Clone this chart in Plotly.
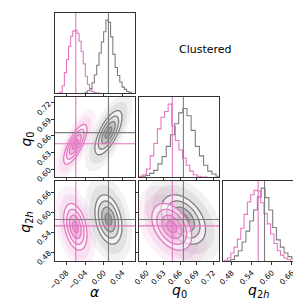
import numpy as np
import plotly.graph_objects as go

# ---------------- data ----------------
alpha_range = [-0.1045, 0.0672]
q0_range = [0.5859, 0.7306]
q2h_range = [0.4537, 0.6937]

alpha_ticks = [-0.08, -0.04, 0.00, 0.04]
alpha_ticktext = ["\u22120.08", "\u22120.04", "0.00", "0.04"]
q0_ticks = [0.60, 0.63, 0.66, 0.69, 0.72]
q0_ticktext = ["0.60", "0.63", "0.66", "0.69", "0.72"]
q2h_ticks = [0.48, 0.54, 0.60, 0.66]
q2h_ticktext = ["0.48", "0.54", "0.60", "0.66"]

# 1D histograms: [lo, hi] of the bins and counts per bin
pink_alpha_bins = [-0.098, -0.008]
pink_alpha_counts = [0, 1, 10, 28, 46, 64, 78, 85, 86, 82, 71, 57, 40, 23, 12, 5, 2, 1, 0, 0]
gray_alpha_bins = [-0.040, 0.059]
gray_alpha_counts = [1, 3, 6, 14, 25, 38, 55, 70, 84, 100, 97, 77, 53, 35, 24, 15, 8, 5, 2, 1]
pink_q0_bins = [0.580, 0.710]
pink_q0_counts = [0, 1, 3, 11, 29, 46, 66, 82, 90, 100, 70, 50, 37, 26, 16, 8, 3, 1, 0, 0]
gray_q0_bins = [0.590, 0.740]
gray_q0_counts = [1, 2, 5, 9, 18, 28, 42, 58, 73, 88, 94, 84, 64, 42, 29, 16, 8, 4, 1, 0]
pink_q2h_bins = [0.457, 0.656]
pink_q2h_counts = [1, 4, 11, 19, 30, 45, 64, 81, 91, 97, 96, 80, 65, 51, 37, 24, 14, 8, 4, 2]
gray_q2h_bins = [0.465, 0.694]
gray_q2h_counts = [0, 2, 7, 14, 26, 41, 55, 70, 88, 100, 87, 70, 46, 29, 19, 11, 6, 3, 2, 1]

# 2D posterior summaries (alpha, q0, q2h)
pink_mean = [-0.061, 0.645, 0.556]
gray_mean = [0.010, 0.666, 0.578]
pink_sigma = [0.0125, 0.018, 0.035]
gray_sigma = [0.0145, 0.020, 0.037]
pink_corr = {"alpha_q0": 0.75, "alpha_q2h": -0.35, "q0_q2h": -0.40}
gray_corr = {"alpha_q0": 0.70, "alpha_q2h": -0.30, "q0_q2h": -0.40}

# truth markers
pink_truth = [-0.060, 0.646, 0.559]
gray_truth = [0.010, 0.666, 0.578]

sigma_levels = [0.5, 1.0, 1.5, 2.0]
title_text = "Clustered"

PINK = "#e377c2"
GRAY = "#7f7f7f"
PINK_RGB = "227,119,194"
GRAY_RGB = "127,127,127"

W = H = 301
fig = go.Figure()


def px_dom(a, b, n=W):
    return [a / n, b / n]


def py_dom(top, bottom, n=H):
    return [1 - bottom / n, 1 - top / n]


cols = [px_dom(41, 123), px_dom(127, 209), px_dom(213, 295)]
rows = [py_dom(5, 87), py_dom(91, 173), py_dom(177, 259)]


def add_hist(xa, ya, bins, counts, color):
    n = len(counts)
    edges = np.linspace(bins[0], bins[1], n + 1)
    xs = [bins[0]] + list(edges[:-1]) + [bins[1], bins[1]]
    ys = [0] + list(counts) + [counts[-1], 0]
    fig.add_trace(go.Scatter(x=xs, y=ys, xaxis=xa, yaxis=ya, mode="lines",
                             line=dict(color=color, width=1.1, shape="hv"),
                             showlegend=False, hoverinfo="skip"))


def mahal(xr, yr, mx, my, sx, sy, rho, n=140):
    xs = np.linspace(xr[0], xr[1], n)
    ys = np.linspace(yr[0], yr[1], n)
    X, Y = np.meshgrid(xs, ys)
    u = (X - mx) / sx
    v = (Y - my) / sy
    r2 = (u * u - 2 * rho * u * v + v * v) / (1 - rho ** 2)
    return xs, ys, np.sqrt(r2)


def region(xa, ya, grid, lvl, fill, lw, color):
    # plotly shades the region that violates the constraint, so ">" shades r < lvl
    xs, ys, r = grid
    fig.add_trace(go.Contour(x=xs, y=ys, z=r, xaxis=xa, yaxis=ya,
                             contours=dict(type="constraint", operation=">", value=lvl),
                             fillcolor=fill, line=dict(width=lw, color=color),
                             showscale=False, hoverinfo="skip", showlegend=False))


def add_cloud(xa, ya, grid, rgb):
    for lvl, alpha in [(3.5, 0.10), (2.8, 0.13)]:
        region(xa, ya, grid, lvl, f"rgba({rgb},{alpha})", 0, f"rgba({rgb},0)")


def add_levels(xa, ya, grid, rgb, color):
    fills = {2.0: "rgba(255,255,255,0.6)", 1.5: f"rgba({rgb},0.18)",
             1.0: f"rgba({rgb},0.30)", 0.5: f"rgba({rgb},0.45)"}
    for lvl in sorted(sigma_levels, reverse=True):
        region(xa, ya, grid, lvl, fills[lvl], 1.3, color)


ranges = [alpha_range, q0_range, q2h_range]
pairs = [  # (xaxis, yaxis, i, j, key)
    ("x2", "y2", 0, 1, "alpha_q0"),
    ("x4", "y4", 0, 2, "alpha_q2h"),
    ("x5", "y5", 1, 2, "q0_q2h"),
]

# diagonal histograms
add_hist("x", "y", gray_alpha_bins, gray_alpha_counts, GRAY)
add_hist("x", "y", pink_alpha_bins, pink_alpha_counts, PINK)
add_hist("x3", "y3", gray_q0_bins, gray_q0_counts, GRAY)
add_hist("x3", "y3", pink_q0_bins, pink_q0_counts, PINK)
add_hist("x6", "y6", gray_q2h_bins, gray_q2h_counts, GRAY)
add_hist("x6", "y6", pink_q2h_bins, pink_q2h_counts, PINK)

for xa, ya, i, j, key in pairs:
    g_grid = mahal(ranges[i], ranges[j], gray_mean[i], gray_mean[j],
                   gray_sigma[i], gray_sigma[j], gray_corr[key])
    p_grid = mahal(ranges[i], ranges[j], pink_mean[i], pink_mean[j],
                   pink_sigma[i], pink_sigma[j], pink_corr[key])
    add_cloud(xa, ya, g_grid, GRAY_RGB)
    add_cloud(xa, ya, p_grid, PINK_RGB)
    add_levels(xa, ya, g_grid, GRAY_RGB, GRAY)
    add_levels(xa, ya, p_grid, PINK_RGB, PINK)

# truth lines
shapes = []


def vline(xa, val, color):
    shapes.append(dict(type="line", xref=xa, yref=xa.replace("x", "y") + " domain",
                       x0=val, x1=val, y0=0, y1=1, line=dict(color=color, width=1.1), layer="above"))


def hline(ya, val, color):
    shapes.append(dict(type="line", yref=ya, xref=ya.replace("y", "x") + " domain",
                       y0=val, y1=val, x0=0, x1=1, line=dict(color=color, width=1.1), layer="above"))


for truth, color in [(gray_truth, GRAY), (pink_truth, PINK)]:
    vline("x", truth[0], color)
    vline("x3", truth[1], color)
    vline("x6", truth[2], color)
    for xa, ya, i, j, key in pairs:
        vline(xa, truth[i], color)
        hline(ya, truth[j], color)

LINE = "#333333"
TICKFONT = dict(size=7.5, family="DejaVu Sans", color="black")


def axis(domain, rng, anchor, tv=None, tt=None, labels=False, ticks=True):
    d = dict(domain=domain, range=rng, anchor=anchor, showline=True, mirror=True,
             linecolor=LINE, linewidth=1, showgrid=False, zeroline=False,
             ticks="outside" if ticks else "", ticklen=3.5, tickwidth=1, tickcolor=LINE,
             showticklabels=labels, fixedrange=True)
    if tv is not None:
        d.update(tickmode="array", tickvals=tv, ticktext=tt)
    else:
        d.update(tickvals=[])
    if labels:
        d.update(tickangle=-45, tickfont=TICKFONT)
    return d


c1, c2, c3 = cols
r1, r2, r3 = rows
hist_y = [0, 110]

layout_axes = dict(
    xaxis=axis(c1, alpha_range, "y", alpha_ticks, alpha_ticktext),
    yaxis=axis(r1, hist_y, "x", ticks=False),
    xaxis2=axis(c1, alpha_range, "y2", alpha_ticks, alpha_ticktext),
    yaxis2=axis(r2, q0_range, "x2", q0_ticks, q0_ticktext, labels=True),
    xaxis3=axis(c2, q0_range, "y3", q0_ticks, q0_ticktext),
    yaxis3=axis(r2, hist_y, "x3", ticks=False),
    xaxis4=axis(c1, alpha_range, "y4", alpha_ticks, alpha_ticktext, labels=True),
    yaxis4=axis(r3, q2h_range, "x4", q2h_ticks, q2h_ticktext, labels=True),
    xaxis5=axis(c2, q0_range, "y5", q0_ticks, q0_ticktext, labels=True),
    yaxis5=axis(r3, q2h_range, "x5", q2h_ticks, q2h_ticktext),
    xaxis6=axis(c3, q2h_range, "y6", q2h_ticks, q2h_ticktext, labels=True),
    yaxis6=axis(r3, hist_y, "x6", ticks=False),
)

LABELFONT = dict(size=14, family="DejaVu Sans", color="black")
annotations = [
    dict(text="<i>\u03b1</i>", x=82 / W, y=1 - 291 / H),
    dict(text="<i>q</i><sub>0</sub>", x=168 / W, y=1 - 290 / H),
    dict(text="<i>q</i><sub>2<i>h</i></sub>", x=249 / W, y=1 - 290 / H),
    dict(text="<i>q</i><sub>0</sub>", x=12 / W, y=1 - 134 / H, textangle=-90),
    dict(text="<i>q</i><sub>2<i>h</i></sub>", x=11 / W, y=1 - 219 / H, textangle=-90),
]
for a in annotations:
    a.update(xref="paper", yref="paper", showarrow=False, font=LABELFONT,
             xanchor="center", yanchor="middle")
annotations.append(dict(text=title_text, x=195 / W, y=1 - 42 / H, xref="paper", yref="paper",
                        showarrow=False, xanchor="center", yanchor="middle",
                        font=dict(size=11, family="DejaVu Sans", color="black")))

fig.update_layout(
    width=W, height=H, margin=dict(l=0, r=0, t=0, b=0),
    paper_bgcolor="white", plot_bgcolor="white",
    showlegend=False, shapes=shapes, annotations=annotations,
    **layout_axes,
)

fig.write_html("out.html")
